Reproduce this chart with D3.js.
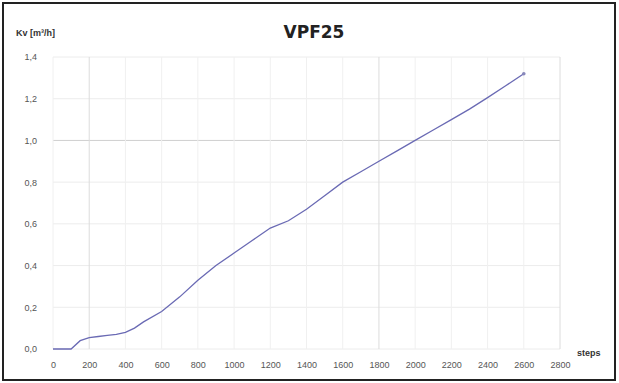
<!DOCTYPE html>
<html><head><meta charset="utf-8">
<script src="https://cdn.jsdelivr.net/npm/d3@7"></script>
<style>body{margin:0;background:#fff}svg{display:block}</style>
</head><body><svg id="c" width="619" height="383"></svg>
<script>
const title = "VPF25";
const yTitle = "Kv [m³/h]";
const xTitle = "steps";
const steps = [0,50,100,150,200,250,300,350,400,450,500,600,700,800,900,1000,1100,1200,1300,1400,1500,1600,1700,1800,1900,2000,2100,2200,2300,2400,2500,2600];
const kv = [0,0,0,0.04,0.055,0.06,0.065,0.07,0.08,0.10,0.13,0.18,0.25,0.33,0.40,0.46,0.52,0.58,0.615,0.67,0.735,0.80,0.85,0.90,0.95,1.00,1.05,1.10,1.15,1.205,1.262,1.32];
const xTicks = [0,200,400,600,800,1000,1200,1400,1600,1800,2000,2200,2400,2600,2800];
const yTicks = [0,0.2,0.4,0.6,0.8,1.0,1.2,1.4];

const svg = d3.select("#c");
const L=53,R=560,T=57,B=349;
const x = d3.scaleLinear().domain([0,2800]).range([L,R]);
const y = d3.scaleLinear().domain([0,1.4]).range([B,T]);

svg.append("rect").attr("x",3).attr("y",3).attr("width",612).attr("height",377)
  .attr("fill","#fff").attr("stroke","#222").attr("stroke-width",2);

const g = svg.append("g");
g.selectAll(".hg").data(yTicks).join("line")
  .attr("x1",L).attr("x2",R).attr("y1",d=>y(d)).attr("y2",d=>y(d))
  .attr("stroke",d=>d===1.0?"#cfcfcf":"#ececec").attr("stroke-width",1);
g.selectAll(".vg").data(xTicks).join("line")
  .attr("y1",T).attr("y2",B).attr("x1",d=>x(d)).attr("x2",d=>x(d))
  .attr("stroke",d=>(d===200||d===1800||d===2800)?"#dcdcdc":"#f0f0f0").attr("stroke-width",1);

const xa = d3.axisBottom(x).tickValues(xTicks).tickSize(0).tickPadding(13).tickFormat(d=>String(d));
svg.append("g").attr("transform",`translate(0,${B})`).call(xa)
  .call(s=>s.select(".domain").remove())
  .selectAll("text").attr("font-family","Liberation Sans, Arial, sans-serif").attr("font-size",9).attr("fill","#555");
const ya = d3.axisLeft(y).tickValues(yTicks).tickSize(0).tickPadding(16).tickFormat(d=>d3.format(".1f")(d).replace(".",","));
svg.append("g").attr("transform",`translate(${L},0)`).call(ya)
  .call(s=>s.select(".domain").remove())
  .selectAll("text").attr("font-family","Liberation Sans, Arial, sans-serif").attr("font-size",9).attr("fill","#555");

const line = d3.line().x((d,i)=>x(steps[i])).y(d=>y(d));
svg.append("path").datum(kv).attr("d",line).attr("fill","none")
  .attr("stroke","#6a6ab4").attr("stroke-width",1.3);
svg.append("circle").attr("cx",x(steps[steps.length-1])).attr("cy",y(kv[kv.length-1])).attr("r",1.8).attr("fill","#8888bb");

svg.append("text").attr("x",314).attr("y",38).attr("text-anchor","middle")
  .attr("font-family","DejaVu Sans, sans-serif").attr("font-weight","bold").attr("font-size",17).attr("fill","#222").text(title);
svg.append("text").attr("x",16).attr("y",36)
  .attr("font-family","Liberation Sans, Arial, sans-serif").attr("font-weight","bold").attr("font-size",9).attr("fill","#333").text(yTitle);
svg.append("text").attr("x",577).attr("y",356)
  .attr("font-family","Liberation Sans, Arial, sans-serif").attr("font-weight","bold").attr("font-size",9).attr("fill","#333").text(xTitle);
</script></body></html>
